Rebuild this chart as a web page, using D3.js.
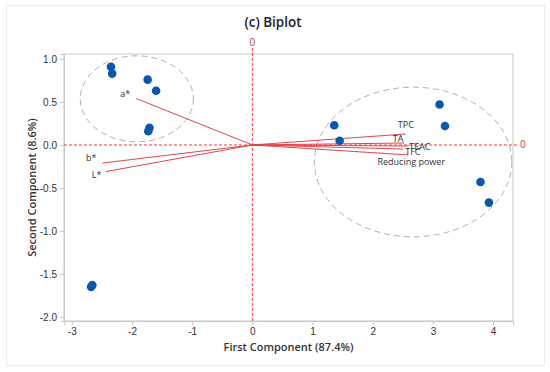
<!DOCTYPE html>
<html>
<head>
<meta charset="utf-8">
<script src="https://cdn.jsdelivr.net/npm/d3@7"></script>
<style>
  body { margin: 0; background: #fff; }
  svg { display: block; font-family: "Open Sans", "Noto Sans", sans-serif; }
</style>
</head>
<body>
<svg id="chart" width="550" height="372"></svg>
<script>
// Scores (observations)
const scoreX = [-2.35, -2.33, -1.74, -1.60, -1.71, -1.73, -2.66, -2.68, 1.36, 1.45, 3.11, 3.20, 3.79, 3.93];
const scoreY = [0.91, 0.83, 0.76, 0.63, 0.20, 0.16, -1.63, -1.65, 0.23, 0.05, 0.47, 0.22, -0.43, -0.67];

// Loadings (vectors)
const varNames = ['a*', 'b*', 'L*', 'TPC', 'TA', 'TEAC', 'TFC', 'Reducing power'];
const varX = [-1.93, -2.49, -2.44, 2.55, 2.52, 2.60, 2.50, 2.59];
const varY = [0.54, -0.21, -0.31, 0.128, 0.023, -0.012, -0.047, -0.116];

// Group ellipses: centre x, centre y, radius x, radius y (data units)
const ellCx = [-1.92, 2.67];
const ellCy = [0.537, -0.198];
const ellRx = [0.94, 1.64];
const ellRy = [0.50, 0.87];

const xTicks = [-3, -2, -1, 0, 1, 2, 3, 4];
const yTicks = [1.0, 0.5, 0.0, -0.5, -1.0, -1.5, -2.0];

const titleText = '(c) Biplot';
const xTitle = 'First Component (87.4%)';
const yTitle = 'Second Component (8.6%)';

// label offsets in px from the vector tip
const labelPos = {
  'a*': [-6, -2, 'end'],
  'b*': [-6, -2, 'end'],
  'L*': [-4, 6, 'end'],
  'TPC': [0, -6, 'middle'],
  'TA': [-6, -1, 'middle'],
  'TEAC': [11, 4, 'middle'],
  'TFC': [10, 6, 'middle'],
  'Reducing power': [3, 10, 'middle']
};

const margin = { top: 54, right: 37, bottom: 51, left: 64 };
const width = 550, height = 372;
const innerW = width - margin.left - margin.right;
const innerH = height - margin.top - margin.bottom;

const svg = d3.select('#chart');

// faint outer frame
svg.append('rect')
  .attr('x', 6.5).attr('y', 5.5)
  .attr('width', 538).attr('height', 360)
  .attr('fill', 'none').attr('stroke', '#ececec');

const x = d3.scaleLinear().domain([-3.13, 4.33]).range([0, innerW]);
const y = d3.scaleLinear().domain([-2.047, 1.058]).range([innerH, 0]);

const g = svg.append('g').attr('transform', `translate(${margin.left},${margin.top})`);

// frame
g.append('rect')
  .attr('x', 0).attr('y', 0)
  .attr('width', innerW).attr('height', innerH)
  .attr('fill', 'none').attr('stroke', '#c9c9c9');

const hyphen = f => d => f(d).replace('\u2212', '-');
const xAxis = d3.axisBottom(x).tickValues(xTicks).tickSize(4).tickFormat(hyphen(d3.format('d')));
const yAxis = d3.axisLeft(y).tickValues(yTicks).tickSize(4).tickFormat(hyphen(d3.format('.1f')));

const gx = g.append('g').attr('transform', `translate(0,${innerH})`).call(xAxis);
const gy = g.append('g').call(yAxis);
[gx, gy].forEach(a => {
  a.select('.domain').attr('stroke', '#c9c9c9');
  a.selectAll('.tick line').attr('stroke', '#c9c9c9');
  a.selectAll('.tick text').attr('fill', '#333').style('font-size', '10px');
});
gy.selectAll('.tick text').attr('x', -7);

// ellipses
g.selectAll('ellipse')
  .data(ellCx.map((cx, i) => ({ cx, cy: ellCy[i], rx: ellRx[i], ry: ellRy[i] })))
  .enter().append('ellipse')
  .attr('cx', d => x(d.cx))
  .attr('cy', d => y(d.cy))
  .attr('rx', d => x(d.cx + d.rx) - x(d.cx))
  .attr('ry', d => y(d.cy - d.ry) - y(d.cy))
  .attr('fill', 'none')
  .attr('stroke', '#b0b0b0')
  .attr('stroke-width', 1)
  .attr('stroke-dasharray', '6,4');

// reference lines at zero
const red = '#ff3b3b';
g.append('line')
  .attr('x1', x(0)).attr('x2', x(0))
  .attr('y1', -6).attr('y2', innerH)
  .attr('stroke', red).attr('stroke-dasharray', '3,2');
g.append('line')
  .attr('x1', 0).attr('x2', innerW + 6)
  .attr('y1', y(0)).attr('y2', y(0))
  .attr('stroke', red).attr('stroke-dasharray', '3,2');
g.append('text')
  .attr('x', x(0)).attr('y', -8)
  .attr('text-anchor', 'middle')
  .attr('fill', '#d0393c').style('font-size', '10px')
  .text('0');
g.append('text')
  .attr('x', innerW + 7).attr('y', y(0) + 3.5)
  .attr('fill', '#d0393c').style('font-size', '10px')
  .text('0');

// vectors
const vars = varNames.map((n, i) => ({ name: n, vx: varX[i], vy: varY[i] }));
g.selectAll('.vec')
  .data(vars)
  .enter().append('line')
  .attr('class', 'vec')
  .attr('x1', x(0)).attr('y1', y(0))
  .attr('x2', d => x(d.vx)).attr('y2', d => y(d.vy))
  .attr('stroke', '#e0474c').attr('stroke-width', 1);

g.selectAll('.vlab')
  .data(vars)
  .enter().append('text')
  .attr('class', 'vlab')
  .attr('x', d => x(d.vx) + labelPos[d.name][0])
  .attr('y', d => y(d.vy) + labelPos[d.name][1])
  .attr('text-anchor', d => labelPos[d.name][2])
  .attr('fill', '#333')
  .style('font-size', '9px')
  .text(d => d.name);

// scores
g.selectAll('.pt')
  .data(scoreX.map((v, i) => ({ sx: v, sy: scoreY[i] })))
  .enter().append('circle')
  .attr('class', 'pt')
  .attr('cx', d => x(d.sx))
  .attr('cy', d => y(d.sy))
  .attr('r', 4.3)
  .attr('fill', '#0a57b0');

// titles
svg.append('text')
  .attr('x', 273).attr('y', 27)
  .attr('text-anchor', 'middle')
  .style('font-size', '13.5px').style('font-weight', 600)
  .attr('fill', '#222')
  .text(titleText);

svg.append('text')
  .attr('x', margin.left + innerW / 2).attr('y', 351)
  .attr('text-anchor', 'middle')
  .style('font-size', '11px').style('font-weight', 600)
  .attr('fill', '#333')
  .text(xTitle);

svg.append('text')
  .attr('transform', `translate(36,${margin.top + innerH / 2}) rotate(-90)`)
  .attr('text-anchor', 'middle')
  .style('font-size', '11px').style('font-weight', 600)
  .attr('fill', '#333')
  .text(yTitle);
</script>
</body>
</html>
